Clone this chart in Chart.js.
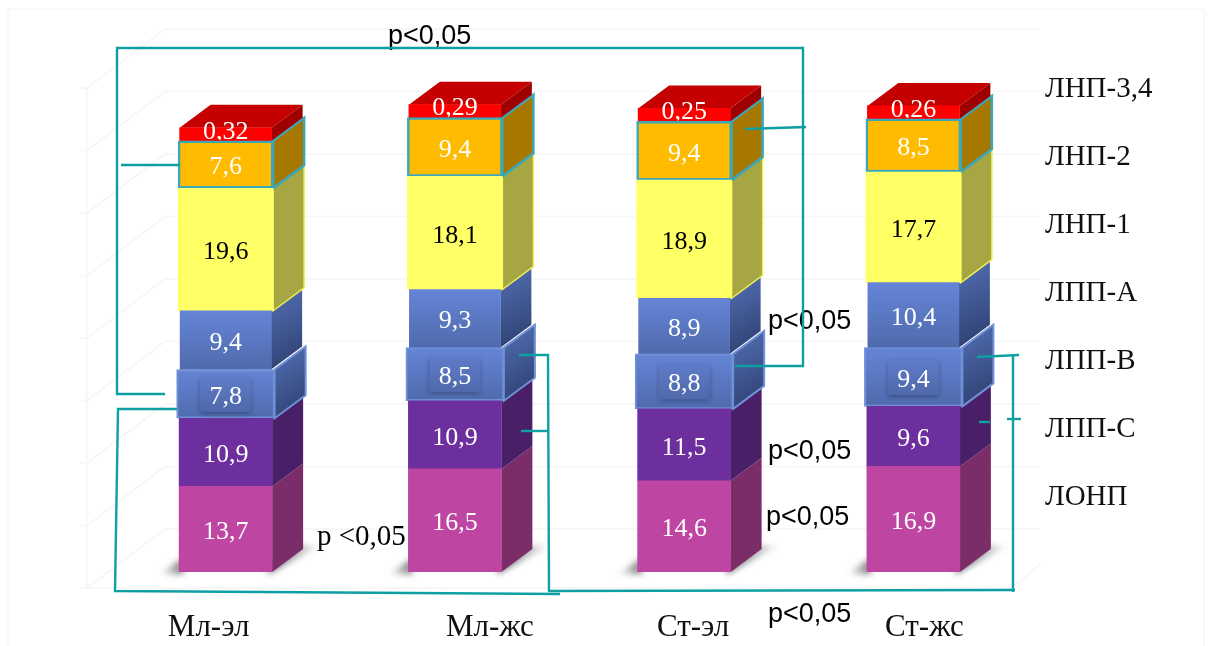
<!DOCTYPE html>
<html><head><meta charset="utf-8">
<style>html,body{margin:0;padding:0;background:#fff}canvas{display:block}</style>
<script src="https://cdn.jsdelivr.net/npm/chart.js@4"></script>
</head><body><canvas id="c" width="1210" height="646"></canvas>
<script>
const categories = ['Мл-эл', 'Мл-жс', 'Ст-эл', 'Ст-жс'];
const lonp   = [13.7, 16.5, 14.6, 16.9];
const lppC   = [10.9, 10.9, 11.5, 9.6];
const lppB   = [7.8, 8.5, 8.8, 9.4];
const lppA   = [9.4, 9.3, 8.9, 10.4];
const lnp1   = [19.6, 18.1, 18.9, 17.7];
const lnp2   = [7.6, 9.4, 9.4, 8.5];
const lnp34  = [0.32, 0.29, 0.25, 0.26];
const seriesNames = ['ЛОНП', 'ЛПП-С', 'ЛПП-В', 'ЛПП-А', 'ЛНП-1', 'ЛНП-2', 'ЛНП-3,4'];
const gridTicks = [0, 10, 20, 30, 40, 50, 60, 70, 80];

const SERIF = '"Liberation Serif", serif';
const SANS = '"Liberation Sans", sans-serif';
const TEAL = '#0e9fa3';
const DX = 31, DY = -23;

function blueFront(ctx) {
  const chart = ctx.chart;
  if (!chart.chartArea || ctx.parsed === undefined) return '#5f7ccb';
  let low = 0;
  for (let i = 0; i < ctx.datasetIndex; i++) low += chart.data.datasets[i].data[ctx.dataIndex];
  const s = chart.scales.y;
  const top = s.getPixelForValue(low + chart.data.datasets[ctx.datasetIndex].data[ctx.dataIndex]);
  const g = chart.ctx.createLinearGradient(0, top, 0, s.getPixelForValue(low));
  g.addColorStop(0, '#6584d6');
  g.addColorStop(1, '#4f6bad');
  return g;
}

const makeDs = (i, data, bg, thick, border, bw) => ({
  label: seriesNames[i], data, backgroundColor: bg, barThickness: thick,
  borderColor: border, borderWidth: bw, borderSkipped: false
});
const datasets = [
  makeDs(0, lonp, '#be46a2', 93, '#be46a2', 0),
  makeDs(1, lppC, '#6e2f9e', 93, '#6e2f9e', 0),
  makeDs(2, lppB, blueFront, 98, '#6f90d6', 2),
  makeDs(3, lppA, blueFront, 91, '#5f7ccb', 0),
  makeDs(4, lnp1, '#ffff66', 95, '#ffff66', 0),
  makeDs(5, lnp2, '#ffbb00', 95, '#3ba7ba', 2.5),
  Object.assign(makeDs(6, lnp34, '#ff0000', 92, '#ff0000', 0), {minBarLength: 13})
];

const sideStyle = [
  {fill: '#7b2d6a'}, {fill: '#491f68'},
  {grad: ['#4a64a4', '#2c3d6c'], stroke: '#6f90d6', lw: 2},
  {grad: ['#4a64a4', '#2c3d6c']},
  {fill: '#a6a644', stroke: '#eeee55', lw: 1.5},
  {fill: '#a67800', stroke: '#3ba7ba', lw: 2.5},
  {fill: '#9e0000'}
];

function poly(c, pts) {
  c.beginPath();
  pts.forEach((p, i) => i ? c.lineTo(p[0], p[1]) : c.moveTo(p[0], p[1]));
  c.closePath();
}

const scene = {
  id: 'scene',
  beforeDatasetsDraw(chart) {
    const c = chart.ctx, y = chart.scales.y;
    c.save();
    c.strokeStyle = '#f9f9f9'; c.lineWidth = 2;
    c.strokeRect(8, 9, 1196, 645);
    c.strokeStyle = '#f7f7f7'; c.lineWidth = 2;
    gridTicks.forEach(v => {
      const py = y.getPixelForValue(v) - 43;
      c.beginPath();
      c.moveTo(80, py + 59); c.lineTo(87, py + 59); c.lineTo(165, py); c.lineTo(1040, py);
      c.stroke();
    });
    c.beginPath(); c.moveTo(87, y.getPixelForValue(80) + 16); c.lineTo(87, y.getPixelForValue(0) + 16); c.stroke();
    c.beginPath(); c.moveTo(87, y.getPixelForValue(0) + 16); c.lineTo(1012, y.getPixelForValue(0) + 16); c.lineTo(1040, y.getPixelForValue(0) - 43 + 35); c.stroke();
    c.restore();

    categories.forEach((_, j) => {
      const b0 = chart.getDatasetMeta(0).data[j];
      const L = b0.x - b0.width / 2, R = b0.x + b0.width / 2, B = b0.base;
      c.save();
      c.filter = 'blur(3px)';
      const sg = c.createLinearGradient(L - 20, 0, L + 5, 0);
      sg.addColorStop(0, 'rgba(110,110,110,0)');
      sg.addColorStop(1, 'rgba(110,110,110,1)');
      c.fillStyle = sg;
      poly(c, [[L - 20, B + 2], [L + 4, B + 2], [L + 4, B - 14]]);
      c.fill();
      const rg = c.createLinearGradient(R, 0, R + DX + 16, 0);
      rg.addColorStop(0, 'rgba(100,100,100,1)');
      rg.addColorStop(1, 'rgba(130,130,130,0.1)');
      c.fillStyle = rg;
      poly(c, [[R - 4, B + 2], [R + DX + 16, B + DY - 3], [R + DX - 4, B + DY - 4], [R - 4, B - 10]]);
      c.fill();
      c.restore();

      datasets.forEach((ds, i) => {
        const el = chart.getDatasetMeta(i).data[j];
        const r = el.x + el.width / 2, t = el.y, b = el.base, st = sideStyle[i];
        c.save();
        poly(c, [[r, b], [r + DX, b + DY], [r + DX, t + DY], [r, t]]);
        if (st.grad) {
          const g = c.createLinearGradient(r, t, r + DX, b);
          g.addColorStop(0, st.grad[0]); g.addColorStop(1, st.grad[1]);
          c.fillStyle = g;
        } else c.fillStyle = st.fill;
        c.fill();
        if (st.stroke) { c.strokeStyle = st.stroke; c.lineWidth = st.lw; c.stroke(); }
        c.restore();
      });
      const top = chart.getDatasetMeta(6).data[j];
      const l = top.x - top.width / 2, rr = top.x + top.width / 2;
      poly(c, [[l, top.y], [l + DX, top.y + DY], [rr + DX, top.y + DY], [rr, top.y]]);
      c.fillStyle = '#c40000';
      c.fill();
    });
  },
  afterDatasetsDraw(chart) {
    const c = chart.ctx, x = chart.scales.x;
    c.save();
    c.textBaseline = 'middle';
    chart.getDatasetMeta(2).data.forEach(el => {
      const my = (el.y + el.base) / 2;
      c.save();
      c.shadowColor = 'rgba(30,40,80,.5)'; c.shadowBlur = 5; c.shadowOffsetY = 2;
      const g = c.createLinearGradient(0, my - 18, 0, my + 18);
      g.addColorStop(0, '#5f7cca'); g.addColorStop(1, '#5069ab');
      c.fillStyle = g;
      c.fillRect(el.x - 25.5, my - 17, 51, 35);
      c.restore();
    });
    c.font = '26px ' + SERIF; c.textAlign = 'center';
    datasets.forEach((ds, i) => {
      chart.getDatasetMeta(i).data.forEach((el, j) => {
        const txt = String(ds.data[j]).replace('.', ',');
        c.fillStyle = i === 4 ? '#000' : '#fff';
        const my = (el.y + el.base) / 2;
        if (i === 6) {
          c.save();
          c.beginPath(); c.rect(0, 0, 1210, el.base - 1); c.clip();
          c.fillText(txt, el.x, el.base - 9);
          c.restore();
        } else c.fillText(txt, el.x, my + 3);
      });
    });
    c.fillStyle = '#111'; c.font = '31px ' + SERIF;
    const shift = [-17, 35, 9, 11];
    categories.forEach((t, i) => c.fillText(t, x.getPixelForValue(i) + shift[i], 628));
    c.textAlign = 'left'; c.font = '29px ' + SERIF;
    seriesNames.forEach((t, i) => c.fillText(t, 1045, 497 - i * 68));
    c.textAlign = 'left'; c.fillStyle = '#000';
    c.font = '27px ' + SANS;
    [[388, 37], [768, 322], [768, 452], [766, 518], [768, 615]].forEach(p => c.fillText('p<0,05', p[0], p[1]));
    c.font = '29px ' + SERIF;
    c.fillText('p <0,05', 317, 537);
    c.strokeStyle = TEAL; c.lineWidth = 2.4;
    [
      [[165, 394], [117, 394], [117, 48], [803, 48], [803, 366], [735, 366]],
      [[121, 165], [180, 165]],
      [[745, 129], [806, 127]],
      [[177, 409], [118, 409], [115, 591], [560, 594]],
      [[519, 355], [548, 355], [549, 591], [1015, 590]],
      [[521, 431], [548, 431]],
      [[977, 357], [1019, 355]],
      [[1013, 355], [1013, 592]],
      [[1007, 419], [1021, 419]],
      [[979, 422], [990, 422]]
    ].forEach(l => {
      c.beginPath();
      l.forEach((p, i) => i ? c.lineTo(p[0], p[1]) : c.moveTo(p[0], p[1]));
      c.stroke();
    });
    c.restore();
  }
};

new Chart(document.getElementById('c'), {
  type: 'bar',
  data: {labels: categories, datasets},
  plugins: [scene],
  options: {
    responsive: false, animation: false, devicePixelRatio: 1,
    layout: {padding: {left: 111, right: 182, top: 22, bottom: 74}},
    plugins: {legend: {display: false}, tooltip: {enabled: false}},
    scales: {
      x: {display: false, stacked: true},
      y: {display: false, stacked: true, min: 0, max: 88}
    }
  }
});
</script></body></html>
